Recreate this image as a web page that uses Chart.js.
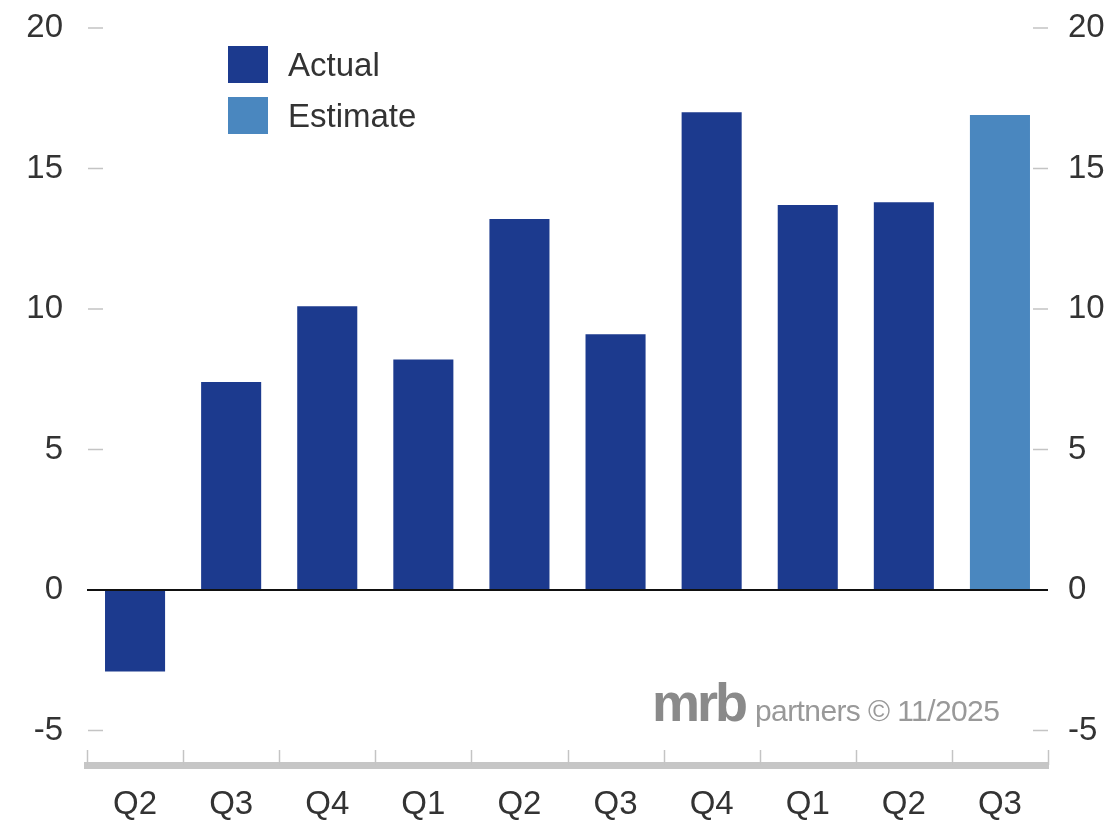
<!DOCTYPE html>
<html>
<head>
<meta charset="utf-8">
<script src="https://cdn.jsdelivr.net/npm/chart.js@4"></script>
<style>
  html, body { margin: 0; padding: 0; background: #fff; }
  .wrap { position: relative; width: 1104px; height: 824px; font-family: 'Liberation Sans', Arial, sans-serif; }
  canvas { display: block; }
  .legend { position: absolute; left: 228px; top: 46px; color: #333; font-size: 33px; }
  .legend-item { display: flex; align-items: center; height: 37px; margin-bottom: 14px; }
  .legend-box { width: 40px; height: 37px; margin-right: 20px; }
  .brand { position: absolute; left: 652px; top: 671px; color: #8a8a8a; white-space: nowrap; }
  .brand .mrb { font-weight: bold; font-size: 54px; letter-spacing: -3px; }
  .brand .rest { font-size: 30px; color: #999; margin-left: 10px; letter-spacing: -0.6px; }
</style>
</head>
<body>
<div class="wrap">
  <canvas id="chart" width="1104" height="824"></canvas>
  <div class="legend">
    <div class="legend-item"><div class="legend-box" style="background:#1c3a8e"></div>Actual</div>
    <div class="legend-item"><div class="legend-box" style="background:#4a87bf"></div>Estimate</div>
  </div>
  <div class="brand"><span class="mrb">mrb</span><span class="rest">partners © 11/2025</span></div>
</div>
<script>
// quarters on the x axis
const quarters = ['Q2', 'Q3', 'Q4', 'Q1', 'Q2', 'Q3', 'Q4', 'Q1', 'Q2', 'Q3'];
// reported values (last quarter is an estimate)
const actualValues = [-2.9, 7.4, 10.1, 8.2, 13.2, 9.1, 17.0, 13.7, 13.8, null];
const estimateValues = [null, null, null, null, null, null, null, null, null, 16.9];
const yTicks = [-5, 0, 5, 10, 15, 20];

const ACTUAL = '#1c3a8e';
const ESTIMATE = '#4a87bf';

// zero line, small tick marks on both y axes and between categories
const decorations = {
  id: 'decorations',
  afterDatasetsDraw(chart) {
    const { ctx, chartArea, scales } = chart;
    const x = scales.x, y = scales.y;
    ctx.save();
    // y dashes, inside the plot area
    ctx.strokeStyle = '#c4c4c4';
    ctx.lineWidth = 1.5;
    yTicks.forEach(v => {
      const py = y.getPixelForValue(v);
      ctx.beginPath();
      ctx.moveTo(chartArea.left + 1, py);
      ctx.lineTo(chartArea.left + 16, py);
      ctx.moveTo(chartArea.right - 15, py);
      ctx.lineTo(chartArea.right, py);
      ctx.stroke();
    });
    // category separators above the x axis bar
    for (let i = 0; i <= quarters.length; i++) {
      const px = Math.round(x.getPixelForValue(i - 0.5)) + 0.5;
      ctx.beginPath();
      ctx.moveTo(px, chartArea.bottom - 15);
      ctx.lineTo(px, chartArea.bottom);
      ctx.stroke();
    }
    // zero line
    const zy = y.getPixelForValue(0);
    ctx.strokeStyle = '#111';
    ctx.lineWidth = 2;
    ctx.beginPath();
    ctx.moveTo(chartArea.left, zy);
    ctx.lineTo(chartArea.right, zy);
    ctx.stroke();
    ctx.restore();
  }
};

const tickFont = { family: "'Liberation Sans', Arial, sans-serif", size: 33 };

function keepFives(scale) {
  scale.ticks = yTicks.map(v => ({ value: v }));
}

function fitY(width) {
  return (s) => {
    s.width = width;
    s.paddingTop = 0;
    s.paddingBottom = 0;
  };
}

new Chart(document.getElementById('chart'), {
  type: 'bar',
  data: {
    labels: quarters,
    datasets: [
      { label: 'Actual', data: actualValues, backgroundColor: ACTUAL, grouped: false },
      { label: 'Estimate', data: estimateValues, backgroundColor: ESTIMATE, grouped: false },
    ],
  },
  options: {
    responsive: false,
    animation: false,
    layout: { padding: { top: 28, left: 0, right: 0, bottom: 0 } },
    datasets: { bar: { barPercentage: 0.625, categoryPercentage: 1 } },
    scales: {
      x: {
        grid: { display: false },
        border: { display: true, color: '#c6c6c6', width: 7 },
        ticks: { color: '#333', font: tickFont, padding: 12 },
        afterFit: (s) => { s.height = 59; },
      },
      y: {
        position: 'left',
        min: -6.23,
        max: 20,
        afterBuildTicks: keepFives,
        grid: { display: false },
        border: { display: false },
        ticks: { color: '#333', font: tickFont, padding: 16 },
        afterFit: fitY(87),
      },
      y2: {
        position: 'right',
        min: -6.23,
        max: 20,
        afterBuildTicks: keepFives,
        grid: { display: false },
        border: { display: false },
        ticks: { color: '#333', font: tickFont, padding: 12 },
        afterFit: fitY(56),
      },
    },
    plugins: {
      legend: { display: false },
      tooltip: { enabled: false },
    },
  },
  plugins: [decorations],
});
</script>
</body>
</html>
